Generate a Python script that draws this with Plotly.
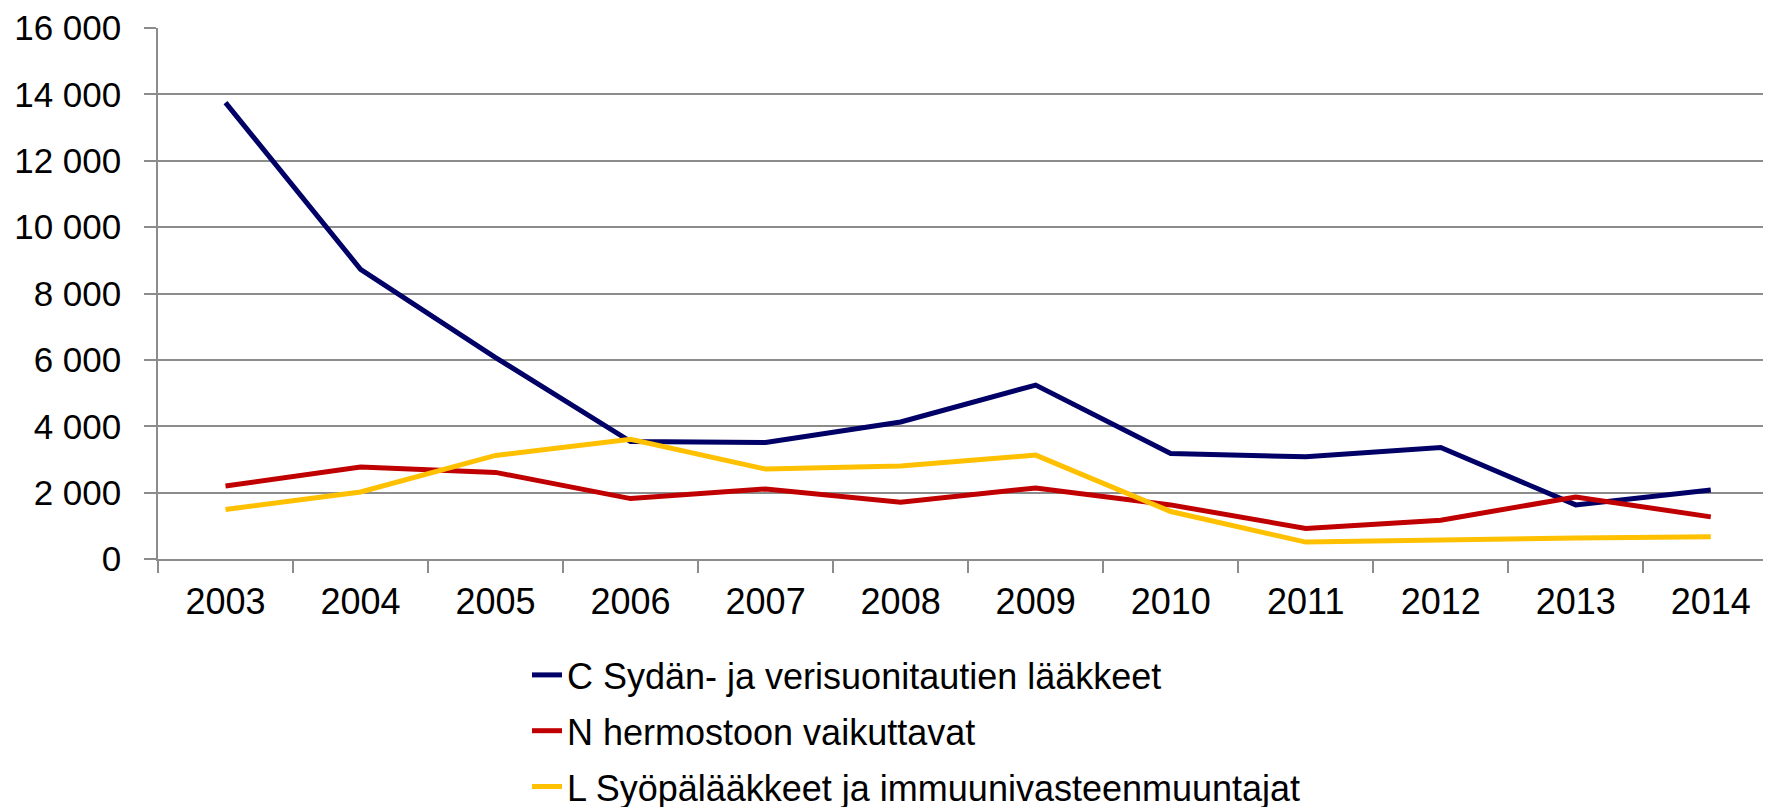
import plotly.graph_objects as go

years = ["2003", "2004", "2005", "2006", "2007", "2008", "2009", "2010", "2011", "2012", "2013", "2014"]

c_sydan = [13750, 8730, 6070, 3540, 3510, 4130, 5240, 3180, 3080, 3360, 1630, 2080]
n_hermosto = [2200, 2770, 2610, 1820, 2110, 1710, 2140, 1630, 920, 1170, 1870, 1270]
l_syopa = [1490, 2020, 3120, 3610, 2710, 2800, 3130, 1430, 510, 580, 630, 670]

names = [
    "C Sydän- ja verisuonitautien lääkkeet",
    "N hermostoon vaikuttavat",
    "L Syöpälääkkeet ja immuunivasteenmuuntajat",
]
colors = ["#000066", "#C00000", "#FFC000"]

y_ticks = [0, 2000, 4000, 6000, 8000, 10000, 12000, 14000, 16000]
y_ticktext = ["0", "2 000", "4 000", "6 000", "8 000", "10 000", "12 000", "14 000", "16 000"]

FONT = "Liberation Sans, Arial, sans-serif"
GRID = "#8C8C8C"

W, H = 1763, 807

fig = go.Figure()
for i, (vals, name, col) in enumerate(zip([c_sydan, n_hermosto, l_syopa], names, colors)):
    fig.add_trace(go.Scatter(
        x=years, y=vals, name=name, mode="lines",
        line=dict(color=col, width=5),
        legendgroup=f"g{i}",
    ))

fig.update_layout(
    width=W, height=H,
    margin=dict(l=150, r=0, t=20, b=256, autoexpand=False),
    paper_bgcolor="white", plot_bgcolor="white",
    font=dict(family=FONT, color="black", size=36),
    showlegend=True,
    legend=dict(
        xref="container", yref="container",
        x=519 / W, xanchor="left",
        y=1 - 637 / H, yanchor="top",
        font=dict(size=36, family=FONT, color="black"),
        tracegroupgap=6,
        bgcolor="rgba(0,0,0,0)",
        itemclick=False,
    ),
    xaxis=dict(
        type="category",
        range=[-0.5, 11.446],
        showgrid=False,
        showline=True, linecolor=GRID, linewidth=1.5,
        ticks="outside", tickson="boundaries", ticklen=12, tickcolor=GRID, tickwidth=1.5,
        tickfont=dict(size=36, family=FONT, color="black"),
        tickangle=0,
        ticklabelstandoff=10,
        zeroline=False,
    ),
    yaxis=dict(
        range=[0, 16000],
        tickvals=y_ticks, ticktext=y_ticktext,
        showgrid=True, gridcolor=GRID, gridwidth=1.5,
        showline=True, linecolor=GRID, linewidth=1.5,
        ticks="outside", ticklen=12, tickcolor=GRID, tickwidth=1.5,
        tickfont=dict(size=35, family=FONT, color="black"),
        ticklabelstandoff=16,
        zeroline=False,
    ),
)

fig.write_html("out.html")
